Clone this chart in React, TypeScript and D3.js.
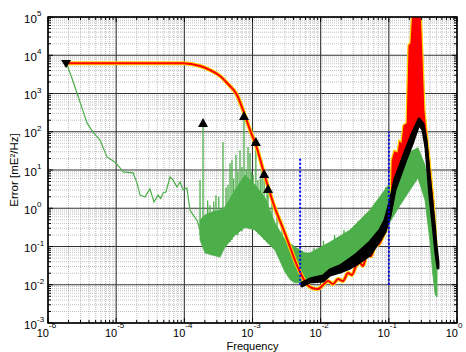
import React, { useEffect, useRef } from 'react';
import * as d3 from 'd3';

// decades shown on each axis
const xDecades = [-6, -5, -4, -3, -2, -1, 0];
const yDecades = [-3, -2, -1, 0, 1, 2, 3, 4, 5];

// green spectrum, low frequency part: [freq, error]
const greenLine: [number, number][] = [
  [1.9e-6, 5600], [2.25e-6, 2500], [2.66e-6, 1030], [3.15e-6, 420], [3.73e-6, 170],
  [4.57e-6, 98], [5.79e-6, 61], [7.33e-6, 22], [9.6e-6, 16], [1.14e-5, 11.3],
  [1.26e-5, 8.9], [1.77e-5, 8.4], [2.02e-5, 4.6], [2.24e-5, 2.2], [2.65e-5, 1.97],
  [2.9e-5, 2.6], [3.13e-5, 3.2], [3.59e-5, 1.46], [4.11e-5, 2.2], [4.5e-5, 1.8],
  [4.87e-5, 2.5], [5.38e-5, 2.66], [6.16e-5, 6.6], [6.82e-5, 5.5], [7.8e-5, 3.6],
  [8.64e-5, 4.9], [9.6e-5, 3.0], [1.09e-4, 3.4], [1.21e-4, 0.9], [1.34e-4, 0.67],
  [1.53e-4, 0.49], [1.7e-4, 0.27],
];

// green spectrum, dense part: [freq, low, high]
const greenBand: [number, number, number][] = [
  [1.7e-4, 0.148, 0.49], [2.01e-4, 0.068, 0.67], [2.55e-4, 0.06, 0.8], [3.34e-4, 0.053, 0.9],
  [3.95e-4, 0.097, 1.08], [5.53e-4, 0.2, 3.0], [7.76e-4, 0.32, 7.4], [1.09e-3, 0.27, 4.1],
  [1.52e-3, 0.148, 1.9], [2.14e-3, 0.081, 0.41], [3.0e-3, 0.0215, 0.148], [3.6e-3, 0.0133, 0.12],
  [4.2e-3, 0.0112, 0.097], [5.89e-3, 0.0112, 0.068], [6.97e-3, 0.0125, 0.068],
  [1.37e-2, 0.0215, 0.131], [2.69e-2, 0.039, 0.27], [5.28e-2, 0.109, 0.9], [0.104, 0.44, 4.6],
  [0.146, 1.2, 12], [0.204, 3.0, 30], [0.268, 6.2, 38], [0.339, 1.64, 13.5], [0.4, 0.148, 1.64],
  [0.44, 0.02, 0.5], [0.48, 0.0055, 0.1], [0.51, 0.0048, 0.03],
];

// green spectral lines and noise hairs: [freq, base, peak]
const greenSpikes: [number, number, number][] = [
  [1.7e-4, 0.2, 5.5], [1.88e-4, 0.1, 170], [2.2e-4, 0.07, 1.6], [2.38e-4, 0.08, 1.2],
  [2.7e-4, 0.06, 1.5], [2.91e-4, 0.07, 2.2], [3.2e-4, 0.06, 2.0], [3.69e-4, 0.08, 54],
  [4.1e-4, 0.1, 3.5], [4.37e-4, 0.12, 4.1], [4.68e-4, 0.13, 15], [5.0e-4, 0.15, 18],
  [5.3e-4, 0.18, 6], [5.72e-4, 0.2, 25], [6.1e-4, 0.2, 9], [6.55e-4, 0.25, 33],
  [7.0e-4, 0.25, 12], [7.5e-4, 0.3, 257], [8.1e-4, 0.3, 10], [8.59e-4, 0.3, 40],
  [9.2e-4, 0.3, 28], [9.7e-4, 0.3, 9], [1.02e-3, 0.28, 7.4], [1.12e-3, 0.25, 54],
  [1.2e-3, 0.22, 5.5], [1.3e-3, 0.2, 6], [1.38e-3, 0.18, 18], [1.48e-3, 0.15, 7.9],
  [1.63e-3, 0.13, 3.0], [1.69e-3, 0.12, 3.2], [1.93e-3, 0.1, 1.37], [2.29e-3, 0.07, 0.59],
  [2.71e-3, 0.04, 0.3], [8e-3, 0.02, 0.09], [1.1e-2, 0.025, 0.14], [1.6e-2, 0.03, 0.2],
  [2.2e-2, 0.04, 0.27], [3.5e-2, 0.06, 0.45], [4.5e-2, 0.08, 0.7], [7e-2, 0.2, 1.6],
  [9e-2, 0.3, 3.5],
];

// red/yellow curve: [freq, error]
const redLine: [number, number][] = [
  [1.84e-6, 6170], [9.6e-5, 6170], [1.7e-4, 5240], [2.38e-4, 4110], [3.34e-4, 2870],
  [4.37e-4, 1770], [5.92e-4, 914], [7.26e-4, 371], [9.2e-4, 111], [1.16e-3, 37.6],
  [1.43e-3, 10], [1.75e-3, 3.0], [2.14e-3, 1.0], [2.8e-3, 0.3], [3.55e-3, 0.097],
  [4.35e-3, 0.037], [4.98e-3, 0.0215], [6.1e-3, 0.0111], [7.46e-3, 0.0082], [9.1e-3, 0.0077],
  [1.08e-2, 0.0098], [1.28e-2, 0.0125], [1.52e-2, 0.0105], [1.8e-2, 0.0141], [2.12e-2, 0.0125],
  [2.52e-2, 0.0203], [2.88e-2, 0.018], [3.3e-2, 0.031], [3.77e-2, 0.037], [4.18e-2, 0.031],
  [4.78e-2, 0.064], [5.47e-2, 0.056], [6.26e-2, 0.103], [7.17e-2, 0.116], [8.2e-2, 0.188],
  [9.1e-2, 0.3], [0.1, 0.8],
];

// red spectrum around the peak: [freq, low, high]
const redBand: [number, number, number][] = [
  [0.1, 0.75, 0.8], [0.104, 0.9, 1.0], [0.108, 1.3, 18], [0.119, 2.8, 33], [0.132, 5, 30],
  [0.141, 7.5, 61], [0.151, 10, 54], [0.161, 14, 150], [0.179, 24, 169], [0.191, 36, 18500],
  [0.204, 54, 20900], [0.219, 75, 2e5], [0.296, 160, 2e5], [0.317, 110, 10200],
  [0.339, 54, 371], [0.375, 13.5, 61], [0.415, 2.2, 10], [0.46, 0.365, 1.64],
  [0.492, 0.0914, 0.3], [0.526, 0.031, 0.04],
];

// black spectrum: [freq, low, high]
const blackBand: [number, number, number][] = [
  [5.32e-3, 0.0093, 0.0111], [6.97e-3, 0.0118, 0.0141], [1.08e-2, 0.0125, 0.0169],
  [1.37e-2, 0.018, 0.0243], [1.92e-2, 0.0215, 0.031], [2.69e-2, 0.0274, 0.047],
  [3.4e-2, 0.0348, 0.064], [5.28e-2, 0.06, 0.131], [7.41e-2, 0.148, 0.27],
  [8.77e-2, 0.239, 0.49], [0.104, 0.63, 1.46], [0.123, 3.0, 5.8], [0.173, 16.2, 29.6],
  [0.219, 47.9, 87], [0.277, 160, 215], [0.317, 111, 160], [0.351, 37.6, 61],
  [0.4, 2.09, 4.9], [0.46, 0.212, 0.44], [0.492, 0.064, 0.109], [0.526, 0.0274, 0.039],
];

// blue dotted verticals: [freq, from, to]
const blueLines: [number, number, number][] = [[5e-3, 1e-2, 20], [0.1, 1e-2, 100]];

// triangle markers: [freq, error]
const upMarkers: [number, number][] = [[1.88e-4, 170], [7.5e-4, 257], [1.12e-3, 54], [1.48e-3, 7.9], [1.69e-3, 3.2]];
const downMarkers: [number, number][] = [[1.84e-6, 5900]];

const FONT = '"Liberation Sans", Arial, Helvetica, sans-serif';

const App = () => {
  const ref = useRef<SVGSVGElement>(null);

  useEffect(() => {
    const width = 466;
    const height = 352;
    const margin = { top: 17, right: 9, bottom: 29, left: 48 };

    const svg = d3.select(ref.current);
    svg.selectAll('*').remove();

    const x = d3.scaleLog().domain([1e-6, 1]).range([margin.left, width - margin.right]);
    const y = d3.scaleLog().domain([1e-3, 1e5]).range([height - margin.bottom, margin.top]);
    const [left, right] = x.range();
    const [bottom, top] = y.range();

    svg.append('rect').attr('width', width).attr('height', height).attr('fill', '#fff');

    const minor = (decs: number[]) =>
      decs.slice(0, -1).flatMap(d => d3.range(2, 10).map(k => k * Math.pow(10, d)));
    const majorX = xDecades.map(d => Math.pow(10, d));
    const majorY = yDecades.map(d => Math.pow(10, d));
    const minorX = minor(xDecades);
    const minorY = minor(yDecades);

    // grid
    const grid = svg.append('g');
    grid.selectAll('.mx').data(minorX).enter().append('line')
      .attr('x1', d => x(d)).attr('x2', d => x(d)).attr('y1', top).attr('y2', bottom)
      .attr('stroke', '#b0b0b0').attr('stroke-width', 0.8).attr('stroke-dasharray', '1,1');
    grid.selectAll('.my').data(minorY).enter().append('line')
      .attr('y1', d => y(d)).attr('y2', d => y(d)).attr('x1', left).attr('x2', right)
      .attr('stroke', '#b0b0b0').attr('stroke-width', 0.8).attr('stroke-dasharray', '1,1');
    grid.selectAll('.Mx').data(majorX).enter().append('line')
      .attr('x1', d => x(d)).attr('x2', d => x(d)).attr('y1', top).attr('y2', bottom)
      .attr('stroke', '#333').attr('stroke-width', 1.1);
    grid.selectAll('.My').data(majorY).enter().append('line')
      .attr('y1', d => y(d)).attr('y2', d => y(d)).attr('x1', left).attr('x2', right)
      .attr('stroke', '#333').attr('stroke-width', 1.1);

    svg.append('defs').append('clipPath').attr('id', 'plot-clip')
      .append('rect').attr('x', left).attr('y', top).attr('width', right - left).attr('height', bottom - top);

    const plot = svg.append('g').attr('clip-path', 'url(#plot-clip)');

    const line = d3.line<[number, number]>().x(d => x(d[0])).y(d => y(d[1]));
    const band = d3.area<[number, number, number]>().x(d => x(d[0])).y0(d => y(d[1])).y1(d => y(d[2]));

    // green
    const green = '#4daf4a';
    plot.append('path').datum(greenLine).attr('d', line)
      .attr('fill', 'none').attr('stroke', green).attr('stroke-width', 1.2);
    plot.append('path').datum(greenBand).attr('d', band)
      .attr('fill', green).attr('stroke', green).attr('stroke-width', 0.8);
    plot.selectAll('.spike').data(greenSpikes).enter().append('line')
      .attr('x1', d => x(d[0])).attr('x2', d => x(d[0]))
      .attr('y1', d => y(d[1])).attr('y2', d => y(d[2]))
      .attr('stroke', green).attr('stroke-width', 1.3);

    // red with yellow edge
    const smooth = d3.line<[number, number]>().x(d => x(d[0])).y(d => y(d[1])).curve(d3.curveMonotoneX);
    plot.append('path').datum(redLine).attr('d', smooth)
      .attr('fill', 'none').attr('stroke', '#ffd000').attr('stroke-width', 4).attr('stroke-linejoin', 'round');
    plot.append('path').datum(redLine).attr('d', smooth)
      .attr('fill', 'none').attr('stroke', '#ff0000').attr('stroke-width', 2).attr('stroke-linejoin', 'round');
    plot.append('path').datum(redBand).attr('d', band)
      .attr('fill', '#ff0000').attr('stroke', '#ffd000').attr('stroke-width', 1.2);

    // black
    plot.append('path').datum(blackBand).attr('d', band)
      .attr('fill', '#000').attr('stroke', '#000').attr('stroke-width', 3).attr('stroke-linejoin', 'round');

    // blue dotted lines
    plot.selectAll('.blue').data(blueLines).enter().append('line')
      .attr('x1', d => x(d[0])).attr('x2', d => x(d[0]))
      .attr('y1', d => y(d[1])).attr('y2', d => y(d[2]))
      .attr('stroke', '#0000ff').attr('stroke-width', 2).attr('stroke-dasharray', '2,2');

    // markers
    svg.selectAll('.up').data(upMarkers).enter().append('path')
      .attr('d', 'M0,-5L5,4L-5,4Z')
      .attr('transform', d => `translate(${x(d[0])},${y(d[1])})`)
      .attr('fill', '#000');
    svg.selectAll('.down').data(downMarkers).enter().append('path')
      .attr('d', 'M0,4L5,-4L-5,-4Z')
      .attr('transform', d => `translate(${x(d[0])},${y(d[1])})`)
      .attr('fill', '#000');

    // frame
    svg.append('rect').attr('x', left).attr('y', top).attr('width', right - left).attr('height', bottom - top)
      .attr('fill', 'none').attr('stroke', '#000').attr('stroke-width', 1.5);

    // inward ticks on all sides
    const ticks = svg.append('g').attr('stroke', '#000').attr('stroke-width', 1);
    const tickX = (vals: number[], len: number) => vals.forEach(v => {
      ticks.append('line').attr('x1', x(v)).attr('x2', x(v)).attr('y1', bottom).attr('y2', bottom - len);
      ticks.append('line').attr('x1', x(v)).attr('x2', x(v)).attr('y1', top).attr('y2', top + len);
    });
    const tickY = (vals: number[], len: number) => vals.forEach(v => {
      ticks.append('line').attr('y1', y(v)).attr('y2', y(v)).attr('x1', left).attr('x2', left + len);
      ticks.append('line').attr('y1', y(v)).attr('y2', y(v)).attr('x1', right).attr('x2', right - len);
    });
    tickX(minorX, 3); tickX(majorX, 5);
    tickY(minorY, 3); tickY(majorY, 5);

    // tick labels
    const labels = svg.append('g').attr('font-family', FONT).attr('fill', '#000');
    xDecades.forEach(d => {
      const px = x(Math.pow(10, d));
      labels.append('text').attr('x', px + 1).attr('y', bottom + 14).attr('text-anchor', 'end')
        .attr('font-size', 11).text('10');
      labels.append('text').attr('x', px + 1).attr('y', bottom + 5).attr('text-anchor', 'start')
        .attr('font-size', 8).text(String(d));
    });
    yDecades.forEach(d => {
      const py = y(Math.pow(10, d));
      labels.append('text').attr('x', 24).attr('y', py + 5.5).attr('text-anchor', 'start')
        .attr('font-size', 11.5).text('10');
      labels.append('text').attr('x', 37).attr('y', py - 1).attr('text-anchor', 'start')
        .attr('font-size', 8).text(String(d));
    });

    // axis titles
    labels.append('text').attr('x', (left + right) / 2).attr('y', height - 2)
      .attr('text-anchor', 'middle').attr('font-size', 11).text('Frequency');
    labels.append('text').attr('transform', `translate(18,${(top + bottom) / 2}) rotate(-90)`)
      .attr('text-anchor', 'middle').attr('font-size', 11.5).text('Error [mE²/Hz]');
  }, []);

  return (
    <svg ref={ref} width={466} height={352}
      style={{ position: 'absolute', left: 0, top: 0, display: 'block' }} />
  );
};

export default App;
